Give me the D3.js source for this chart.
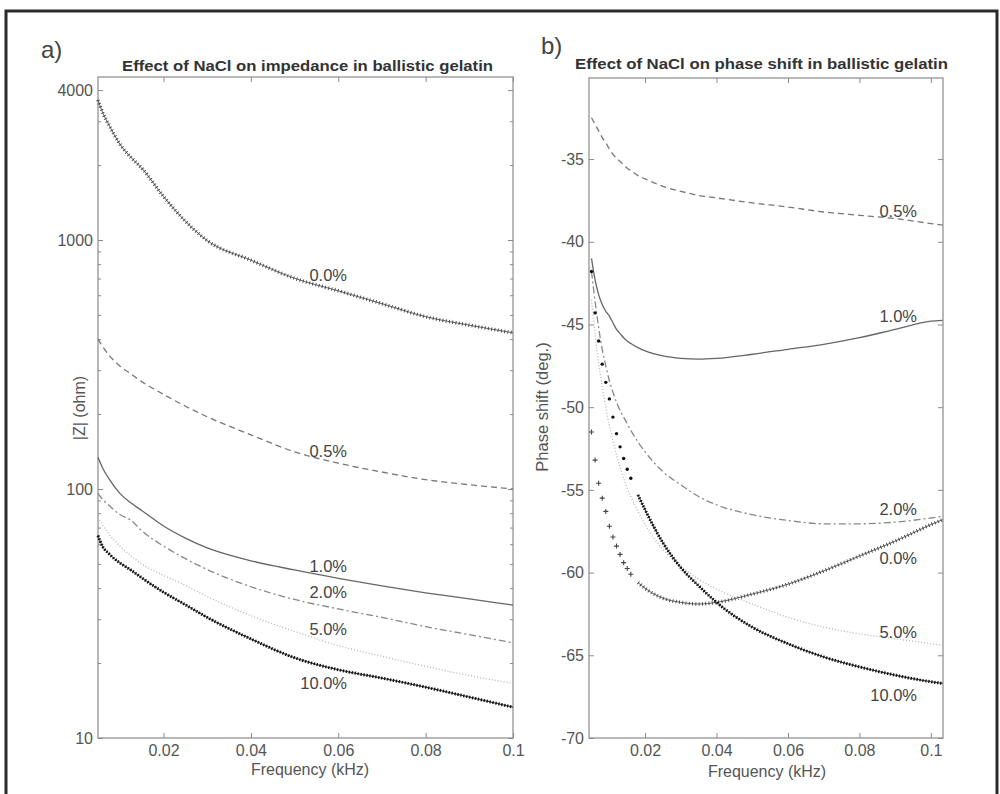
<!DOCTYPE html>
<html><head><meta charset="utf-8">
<script src="https://cdn.jsdelivr.net/npm/d3@7"></script>
<style>
body{margin:0;background:#fff}
svg{display:block}
text{font-family:"Liberation Sans",Arial,Helvetica,sans-serif}
</style>
</head><body>
<svg id="c" width="1000" height="794"></svg>
<script>
// ---------------- DATA ----------------
const concentrations = ["0.0%","0.5%","1.0%","2.0%","5.0%","10.0%"];

// (a) impedance |Z| (ohm) vs frequency (kHz)
const freqLeft = [0.005,0.006,0.0075,0.01,0.0125,0.015,0.02,0.025,0.03,0.04,0.05,0.06,0.07,0.08,0.09,0.1];
const imp00  = [3650,3270,2900,2430,2150,1945,1495,1190,995,830,702,625,555,492,455,424];
const imp05  = [400,375,345,312,290,270,240,215,195,165,141,127,117,109,104,100];
const imp10  = [134,122,110,96,88,82,71,63.5,58,51.5,47.3,43.8,40.8,38.3,36.2,34.2];
const imp20  = [96,91,86,79,75,68,59,52.5,47.5,40.5,36,33,30.5,28,26,24.1];
const imp50  = [77,72,66,59,54,50,45,41,37,31,26.8,23.5,21.3,19.4,17.8,16.6];
const imp100 = [65,59,55,50.5,47.3,44,38.5,34.3,30.5,25,21,18.8,17.4,16.0,14.6,13.3];

// (b) phase shift (deg.) vs frequency (kHz)
const freqRight = [0.005,0.006,0.007,0.008,0.009,0.01,0.011,0.012,0.013,0.014,0.015,0.016,0.018,0.02,0.025,0.03,0.035,0.04,0.05,0.06,0.07,0.08,0.09,0.1,0.1033];
const ph00  = [-51.5,-53.2,-54.6,-55.5,-56.3,-57.2,-57.85,-58.4,-58.9,-59.4,-59.75,-60.1,-60.6,-60.95,-61.55,-61.8,-61.9,-61.8,-61.3,-60.7,-59.9,-59.0,-58.1,-57.1,-56.8];
const ph05  = [-32.5,-32.9,-33.3,-33.7,-34.0,-34.4,-34.7,-34.95,-35.15,-35.35,-35.55,-35.7,-36.0,-36.2,-36.65,-36.95,-37.2,-37.35,-37.65,-37.9,-38.2,-38.4,-38.6,-38.9,-39.0];
const ph10  = [-41.0,-42.3,-43.2,-43.8,-44.2,-44.5,-44.9,-45.3,-45.55,-45.8,-46.0,-46.15,-46.4,-46.6,-46.9,-47.05,-47.1,-47.05,-46.8,-46.5,-46.2,-45.8,-45.3,-44.8,-44.75];
const ph20  = [-41.8,-43.6,-45.2,-46.5,-47.5,-48.4,-49.1,-49.7,-50.2,-50.6,-51.0,-51.4,-52.1,-52.7,-53.9,-54.7,-55.4,-55.9,-56.5,-56.85,-57.05,-57.05,-56.95,-56.7,-56.6];
const ph50  = [-43.5,-45.6,-47.3,-48.8,-50.0,-51.1,-52.0,-52.9,-53.6,-54.3,-54.9,-55.4,-56.3,-57.1,-58.6,-59.6,-60.4,-61.0,-61.9,-62.7,-63.3,-63.7,-64.0,-64.3,-64.4];
const ph100 = [-41.8,-44.3,-46.0,-47.4,-48.5,-49.5,-50.6,-51.6,-52.4,-53.1,-53.75,-54.3,-55.3,-56.2,-58.2,-59.7,-60.8,-61.8,-63.3,-64.3,-65.1,-65.7,-66.2,-66.6,-66.7];

// tick labels
const xTickValues = [0.02,0.04,0.06,0.08,0.1];
const leftYLabelled = [10,100,1000,4000];
const rightYTicks = [-70,-65,-60,-55,-50,-45,-40,-35];

// ---------------- LAYOUT / STYLE ----------------
const styles = {
  "0.0%":  {color:"#444", dash:null, kind:"plus"},
  "0.5%":  {color:"#777", dash:"6 4", kind:"line"},
  "1.0%":  {color:"#666", dash:null, kind:"line"},
  "2.0%":  {color:"#888", dash:"7 3 2 3", kind:"line"},
  "5.0%":  {color:"#b4b4b4", dash:"1 2", kind:"line"},
  "10.0%": {color:"#111", dash:null, kind:"dots"}
};
const leftLabelPos  = {"0.0%":275,"0.5%":451,"1.0%":566,"2.0%":592,"5.0%":629,"10.0%":683};
const rightLabelPos = {"0.0%":558,"0.5%":211,"1.0%":316,"2.0%":509,"5.0%":632,"10.0%":695};

const svg = d3.select("#c");
const FONT = '"Liberation Sans",Arial,Helvetica,sans-serif';

// outer frame
svg.append("rect").attr("x",6).attr("y",11).attr("width",991).attr("height",800)
  .attr("fill","none").attr("stroke","#2a2a2a").attr("stroke-width",3);

// scales
const xL = d3.scaleLinear().domain([0.005,0.1]).range([98,513]);
const yL = d3.scaleLog().domain([10,4515]).range([738,77]);
const xR = d3.scaleLinear().domain([0.0043,0.1034]).range([589,943]);
const yR = d3.scaleLinear().domain([-70,-30.1]).range([738,78]);

function styleAxis(g){
  g.select(".domain").remove();
  g.selectAll("line").attr("stroke","#8a8a8a");
  g.selectAll("text").attr("fill","#555").attr("font-size",16).attr("font-family",FONT);
}

function drawFrame(x,y,yMajor,yMinor,yFmt){
  const [x0,x1]=x.range(), [y0,y1]=y.range();
  const g = svg.append("g");
  g.append("g").attr("transform",`translate(0,${y0})`)
    .call(d3.axisBottom(x).tickValues(xTickValues).tickSize(-5).tickPadding(7).tickFormat(d=>String(d)))
    .call(styleAxis);
  g.append("g").attr("transform",`translate(0,${y1})`)
    .call(d3.axisTop(x).tickValues(xTickValues).tickSize(-5).tickFormat(""))
    .call(styleAxis);
  g.append("g").attr("transform",`translate(${x0},0)`)
    .call(d3.axisLeft(y).tickValues(yMajor).tickSize(-5).tickPadding(5).tickFormat(yFmt))
    .call(styleAxis);
  g.append("g").attr("transform",`translate(${x1},0)`)
    .call(d3.axisRight(y).tickValues(yMajor).tickSize(-5).tickFormat(""))
    .call(styleAxis);
  if(yMinor){
    g.append("g").attr("transform",`translate(${x0},0)`)
      .call(d3.axisLeft(y).tickValues(yMinor).tickSize(-3).tickFormat(""))
      .call(styleAxis);
    g.append("g").attr("transform",`translate(${x1},0)`)
      .call(d3.axisRight(y).tickValues(yMinor).tickSize(-3).tickFormat(""))
      .call(styleAxis);
  }
  g.append("rect").attr("x",x0).attr("y",y1).attr("width",x1-x0).attr("height",y0-y1)
    .attr("fill","none").attr("stroke","#8a8a8a").attr("stroke-width",1.2);
}

function drawSeries(x,y,freqs,vals,name,sparseBefore){
  const st = styles[name];
  const pts = freqs.map((f,i)=>[f,vals[i]]);
  const line = d3.line().x(d=>x(d[0])).y(d=>y(d[1])).curve(d3.curveMonotoneX);
  const g = svg.append("g");
  if(st.kind==="line"){
    g.append("path").attr("d",line(pts)).attr("fill","none").attr("stroke",st.color)
      .attr("stroke-width",1.3).attr("stroke-dasharray",st.dash);
    return;
  }
  const dense = sparseBefore ? pts.filter(d=>d[0]>=sparseBefore) : pts;
  const sparse = sparseBefore ? pts.filter(d=>d[0]<sparseBefore) : [];
  if(st.kind==="plus"){
    g.append("path").attr("d",line(dense)).attr("fill","none").attr("stroke","#666").attr("stroke-width",1);
    g.append("path").attr("d",line(dense)).attr("fill","none").attr("stroke",st.color)
      .attr("stroke-width",3.6).attr("stroke-dasharray","0.9 2.4");
    const s=2.5;
    g.selectAll("path.m").data(sparse).join("path").attr("class","m")
      .attr("d",d=>`M${x(d[0])-s},${y(d[1])}h${2*s}M${x(d[0])},${y(d[1])-s}v${2*s}`)
      .attr("stroke",st.color).attr("stroke-width",1.1);
  } else {
    g.append("path").attr("d",line(dense)).attr("fill","none").attr("stroke","#333").attr("stroke-width",1);
    g.append("path").attr("d",line(dense)).attr("fill","none").attr("stroke",st.color)
      .attr("stroke-width",3).attr("stroke-dasharray","1.4 1.6");
    g.selectAll("circle").data(sparse).join("circle")
      .attr("cx",d=>x(d[0])).attr("cy",d=>y(d[1])).attr("r",1.7).attr("fill",st.color);
  }
}

// ---------- panel a ----------
const minorL = [];
[10,100,1000].forEach(dec=>{for(let k=2;k<=9;k++){const v=k*dec; if(v<=4515 && v!==4000) minorL.push(v);}});
drawFrame(xL,yL,leftYLabelled,minorL,d=>String(d));
const leftSeries = {"0.0%":imp00,"0.5%":imp05,"1.0%":imp10,"2.0%":imp20,"5.0%":imp50,"10.0%":imp100};
concentrations.forEach(c=>drawSeries(xL,yL,freqLeft,leftSeries[c],c,null));

// ---------- panel b ----------
drawFrame(xR,yR,rightYTicks,null,d=>String(d));
const rightSeries = {"0.0%":ph00,"0.5%":ph05,"1.0%":ph10,"2.0%":ph20,"5.0%":ph50,"10.0%":ph100};
concentrations.forEach(c=>drawSeries(xR,yR,freqRight,rightSeries[c],c,0.017));

// curve labels
concentrations.forEach(c=>{
  svg.append("text").attr("x",347).attr("y",leftLabelPos[c]).attr("dy","0.36em")
    .attr("text-anchor","end").attr("font-size",16.5).attr("fill","#444").text(c);
  svg.append("text").attr("x",917).attr("y",rightLabelPos[c]).attr("dy","0.36em")
    .attr("text-anchor","end").attr("font-size",16.5).attr("fill","#444").text(c);
});

// titles
svg.append("text").attr("x",307.5).attr("y",71).attr("text-anchor","middle")
  .attr("font-size",15).attr("font-weight","bold").attr("fill","#333")
  .attr("textLength",371).attr("lengthAdjust","spacingAndGlyphs")
  .text("Effect of NaCl on impedance in ballistic gelatin");
svg.append("text").attr("x",761.5).attr("y",69).attr("text-anchor","middle")
  .attr("font-size",15).attr("font-weight","bold").attr("fill","#333")
  .attr("textLength",373).attr("lengthAdjust","spacingAndGlyphs")
  .text("Effect of NaCl on phase shift in ballistic gelatin");

// panel letters
svg.append("text").attr("x",41).attr("y",58).attr("font-size",24).attr("fill","#444").text("a)");
svg.append("text").attr("x",541).attr("y",54).attr("font-size",24).attr("fill","#444").text("b)");

// axis labels
svg.append("text").attr("x",310).attr("y",775).attr("text-anchor","middle")
  .attr("font-size",16).attr("fill","#555").text("Frequency (kHz)");
svg.append("text").attr("x",767).attr("y",777).attr("text-anchor","middle")
  .attr("font-size",16).attr("fill","#555").text("Frequency (kHz)");
svg.append("text").attr("transform","translate(85,408) rotate(-90)").attr("text-anchor","middle")
  .attr("font-size",16).attr("fill","#555").text("|Z| (ohm)");
svg.append("text").attr("transform","translate(548,407) rotate(-90)").attr("text-anchor","middle")
  .attr("font-size",16.5).attr("fill","#555").text("Phase shift (deg.)");
</script>
</body></html>
